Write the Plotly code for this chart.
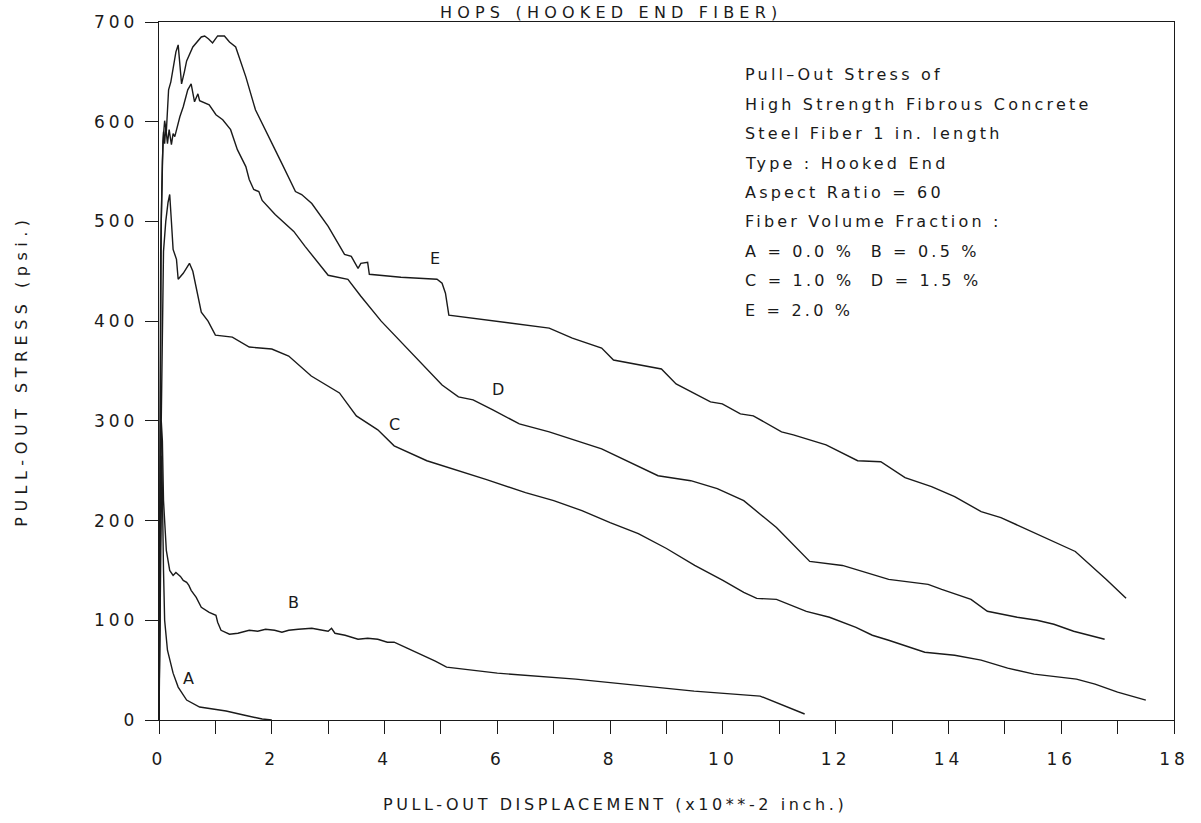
import plotly.graph_objects as go

# ---- data ----
A_x = [0, 0.03, 0.05, 0.08, 0.10, 0.15, 0.20, 0.25, 0.34, 0.49, 0.72, 1.00, 1.19, 1.50, 1.83, 2.00]
A_y = [0, 180, 265, 150, 100, 70, 57, 47, 33, 20, 13, 11, 9, 5, 1, 0]

B_x = [0, 0.04, 0.06, 0.08, 0.13, 0.19, 0.25, 0.30, 0.34, 0.38, 0.43, 0.49, 0.53, 0.57, 0.66, 0.75,
       0.89, 1.01, 1.04, 1.10, 1.25, 1.40, 1.60, 1.75, 1.89, 2.05, 2.18, 2.30, 2.47, 2.71, 2.90, 3.00,
       3.06, 3.12, 3.30, 3.53, 3.70, 3.88, 4.05, 4.17, 4.40, 4.64, 4.90, 5.10, 6.00, 7.39, 8.50, 9.49,
       10.66, 11.45]
B_y = [0, 300, 280, 220, 170, 150, 145, 148, 146, 144, 140, 138, 135, 130, 123, 113,
       108, 105, 98, 90, 86, 87, 90, 89, 91, 90, 88, 90, 91, 92, 90, 89,
       92, 87, 85, 81, 82, 81, 78, 78, 72, 66, 59, 53, 47, 41, 35, 29,
       24, 6]

C_x = [0, 0.04, 0.08, 0.12, 0.16, 0.19, 0.22, 0.25, 0.31, 0.34, 0.43, 0.54, 0.60, 0.69, 0.75, 0.87,
       1.00, 1.30, 1.60, 2.00, 2.30, 2.70, 3.00, 3.20, 3.50, 3.88, 4.17, 4.75, 5.81, 6.50, 7.00, 7.50,
       8.00, 8.50, 9.00, 9.50, 10.00, 10.37, 10.60, 10.95, 11.48, 11.89, 12.36, 12.65, 12.94, 13.58,
       14.11, 14.58, 15.05, 15.52, 16.27, 16.60, 17.00, 17.50]
C_y = [0, 300, 470, 500, 519, 527, 500, 472, 462, 442, 448, 458, 450, 425, 409, 400,
       386, 384, 374, 372, 365, 345, 335, 328, 305, 291, 275, 260, 241, 228, 220, 210,
       198, 187, 172, 155, 140, 128, 122, 121, 109, 103, 93, 85, 80, 68,
       65, 60, 52, 46, 41, 36, 28, 20]

D_x = [0, 0.03, 0.06, 0.08, 0.10, 0.12, 0.15, 0.18, 0.22, 0.25, 0.28, 0.37, 0.43, 0.51, 0.57, 0.63,
       0.69, 0.72, 0.89, 1.01, 1.13, 1.27, 1.39, 1.54, 1.60, 1.68, 1.77, 1.83, 2.06, 2.39, 2.59, 3.00,
       3.35, 3.58, 3.94, 4.46, 5.02, 5.31, 5.57, 5.92, 6.39, 6.92, 7.85, 8.85, 9.43, 9.90, 10.37,
       10.95, 11.54, 12.12, 12.94, 13.64, 13.88, 14.40, 14.69, 15.22, 15.57, 15.87, 16.22, 16.77]
D_y = [0, 470, 560, 590, 578, 595, 578, 592, 577, 588, 585, 605, 615, 632, 638, 620,
       628, 621, 617, 607, 602, 592, 572, 555, 542, 532, 530, 521, 507, 490, 475, 446,
       442, 425, 400, 369, 336, 324, 321, 311, 297, 289, 272, 245, 240, 232, 220,
       193, 159, 155, 141, 136, 131, 121, 109, 103, 100, 96, 89, 81]

E_x = [0, 0.04, 0.07, 0.10, 0.13, 0.17, 0.21, 0.25, 0.30, 0.34, 0.37, 0.40, 0.45, 0.49, 0.60, 0.75,
       0.81, 0.88, 0.95, 1.04, 1.16, 1.25, 1.36, 1.54, 1.71, 1.95, 2.18, 2.42, 2.53, 2.71, 3.00, 3.29,
       3.41, 3.53, 3.58, 3.70, 3.73, 4.29, 4.93, 5.02, 5.08, 5.14, 6.92, 7.33, 7.85, 8.06, 8.91, 9.17,
       9.49, 9.78, 9.99, 10.31, 10.54, 11.04, 11.25, 11.83, 12.39, 12.80, 13.23, 13.70, 14.11, 14.58,
       14.93, 15.40, 15.81, 16.25, 16.80, 17.15]
E_y = [0, 500, 580, 601, 590, 632, 640, 655, 670, 677, 660, 638, 650, 661, 675, 685,
       686, 683, 679, 686, 686, 680, 675, 645, 612, 585, 558, 530, 527, 518, 495, 467,
       465, 453, 458, 459, 447, 444, 442, 438, 428, 406, 393, 383, 373, 361, 352, 337,
       328, 319, 317, 307, 305, 289, 286, 276, 260, 259, 243, 234, 224, 209,
       203, 191, 181, 169, 141, 122]

curve_names = ["A", "B", "C", "D", "E"]
label_x = [0.53, 2.39, 4.17, 6.01, 4.90]
label_y = [42, 118, 296, 331, 463]

x_ticks = [0, 2, 4, 6, 8, 10, 12, 14, 16, 18]
y_ticks = [0, 100, 200, 300, 400, 500, 600, 700]

note_lines = [
    "Pull\u2013Out Stress of",
    "High Strength Fibrous Concrete",
    "Steel Fiber 1 in. length",
    "Type : Hooked End",
    "Aspect Ratio = 60",
    "Fiber Volume Fraction :",
    "A = 0.0 %\u00a0\u00a0B = 0.5 %",
    "C = 1.0 %\u00a0\u00a0D = 1.5 %",
    "E = 2.0 %",
]

title_text = "HOPS (HOOKED END FIBER)"
x_title = "PULL-OUT DISPLACEMENT (x10**-2 inch.)"
y_title = "PULL-OUT STRESS (psi.)"

FONT = "DejaVu Sans"
INK = "#1a1a1a"


def spaced(s, px):
    return '<span style="letter-spacing:%spx">%s</span>' % (px, s)


fig = go.Figure()
for xs, ys, nm in zip([A_x, B_x, C_x, D_x, E_x], [A_y, B_y, C_y, D_y, E_y], curve_names):
    fig.add_trace(go.Scatter(x=xs, y=ys, mode="lines", name=nm,
                             line=dict(color=INK, width=1.4), showlegend=False,
                             hoverinfo="skip"))

for nm, lx, ly in zip(curve_names, label_x, label_y):
    fig.add_annotation(x=lx, y=ly, text=nm, showarrow=False, xref="x", yref="y",
                       font=dict(family=FONT, size=16, color=INK))

for i, line in enumerate(note_lines):
    fig.add_annotation(x=10.35, y=647 - i * 29.5, text=spaced(line, 3.2), showarrow=False,
                       xref="x", yref="y", xanchor="left", yanchor="middle",
                       font=dict(family=FONT, size=16, color=INK))

fig.add_annotation(x=0.445, y=1.0142, xref="paper", yref="paper", text=spaced(title_text, 5.2),
                   showarrow=False, xanchor="center", yanchor="middle",
                   font=dict(family=FONT, size=16, color=INK))

fig.add_annotation(x=0.449, y=-0.121, xref="paper", yref="paper", text=spaced(x_title, 3.6),
                   showarrow=False, xanchor="center", yanchor="middle",
                   font=dict(family=FONT, size=16, color=INK))

fig.add_annotation(x=-0.1355, y=0.501, xref="paper", yref="paper", text=spaced(y_title, 5.5),
                   showarrow=False, xanchor="center", yanchor="middle", textangle=-90,
                   font=dict(family=FONT, size=16, color=INK))

axis_common = dict(showline=True, linecolor=INK, linewidth=1.4, mirror=True,
                   ticks="outside", ticklen=13, tickwidth=1.3, tickcolor=INK,
                   showgrid=False, zeroline=False,
                   tickfont=dict(family=FONT, size=17, color=INK))

fig.update_layout(
    width=1201, height=823,
    margin=dict(l=159, r=16, t=18, b=103),
    paper_bgcolor="white", plot_bgcolor="white",
    xaxis=dict(range=[0, 18], tickvals=x_ticks, ticktext=[spaced(str(v), 4) for v in x_ticks],
               minor=dict(dtick=1, ticks="outside", ticklen=13, tickwidth=1.3, tickcolor=INK),
               ticklabelstandoff=10,
               **axis_common),
    yaxis=dict(range=[0, 700], tickvals=y_ticks, ticktext=[spaced(str(v), 4) for v in y_ticks],
               ticklabelstandoff=3,
               **axis_common),
)

fig.write_html("out.html")
